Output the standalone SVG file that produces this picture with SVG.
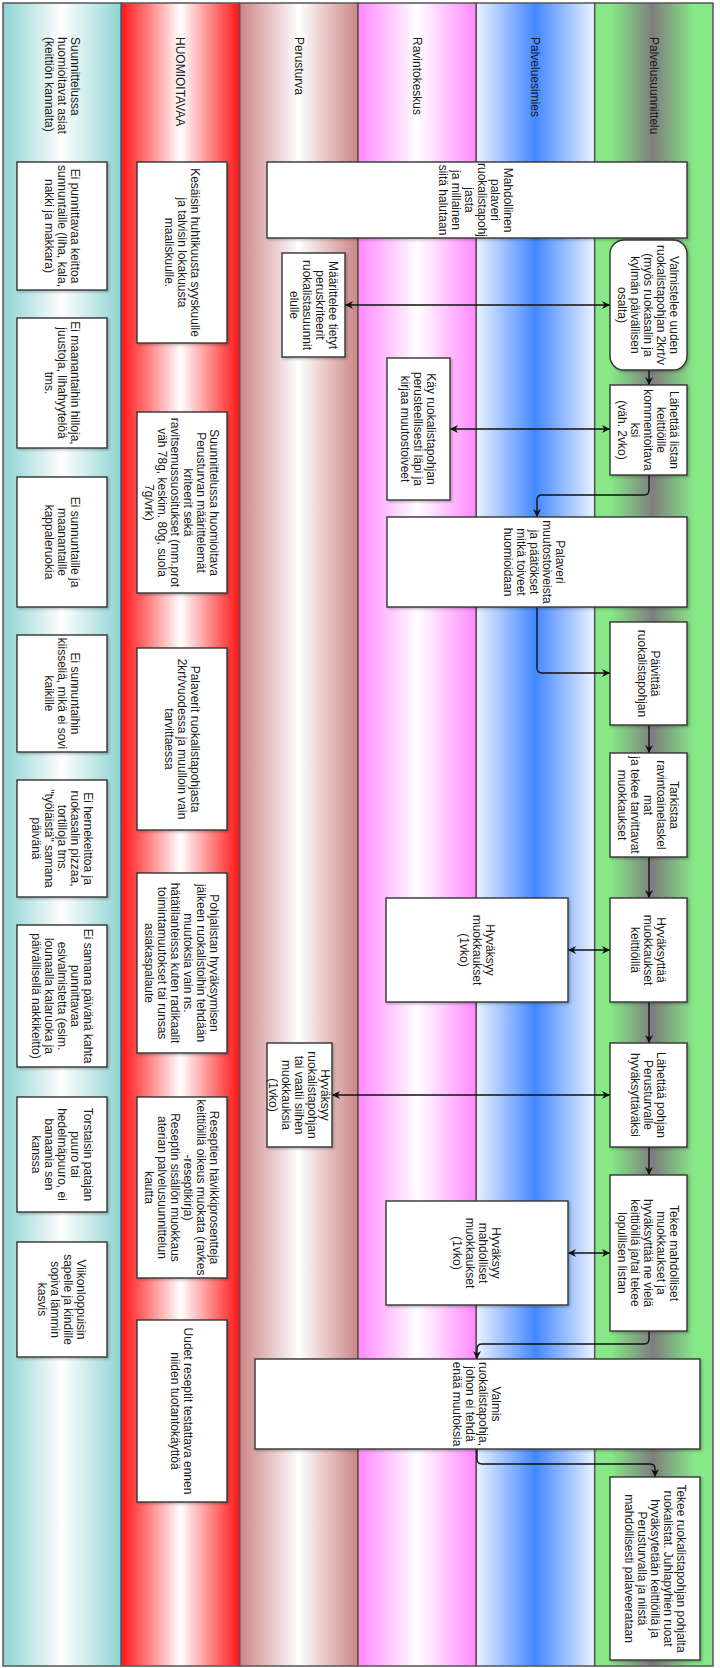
<svg xmlns="http://www.w3.org/2000/svg" width="720" height="1668" viewBox="0 0 720 1668">
<style>
.lane{stroke:#555;stroke-width:1.5}
.box{fill:#fff;stroke:#333;stroke-width:1.4;filter:url(#sh)}
.t{font-family:"Liberation Sans",Arial,sans-serif;font-size:12px;fill:#1a1a1a;text-anchor:middle}
.h{font-family:"Liberation Sans",Arial,sans-serif;font-size:12px;fill:#1a1a1a;text-anchor:start}
.c{fill:none;stroke:#111;stroke-width:1.4}
</style>
<defs>
<filter id="sh" x="-10%" y="-10%" width="130%" height="130%"><feDropShadow dx="1.5" dy="1.5" stdDeviation="1" flood-color="#000" flood-opacity="0.25"/></filter>
<marker id="ae" viewBox="0 0 10 10" refX="10" refY="5" markerWidth="8" markerHeight="8" markerUnits="userSpaceOnUse" orient="auto"><path d="M0,0 L10,5 L0,10 L3,5 z" fill="#111"/></marker>
<marker id="as" viewBox="0 0 10 10" refX="0" refY="5" markerWidth="8" markerHeight="8" markerUnits="userSpaceOnUse" orient="auto"><path d="M10,0 L0,5 L10,10 L7,5 z" fill="#111"/></marker>
<linearGradient id="g1" x1="0" x2="1" y1="0" y2="0"><stop offset="0" stop-color="#8ED3D3"/><stop offset="0.5" stop-color="#fff"/><stop offset="1" stop-color="#8ED3D3"/></linearGradient>
<linearGradient id="g2" x1="0" x2="1" y1="0" y2="0"><stop offset="0" stop-color="#FF1414"/><stop offset="0.5" stop-color="#fff"/><stop offset="1" stop-color="#FF1414"/></linearGradient>
<linearGradient id="g3" x1="0" x2="1" y1="0" y2="0"><stop offset="0" stop-color="#CC8585"/><stop offset="0.5" stop-color="#fff"/><stop offset="1" stop-color="#CC8585"/></linearGradient>
<linearGradient id="g4" x1="0" x2="1" y1="0" y2="0"><stop offset="0" stop-color="#FF88FF"/><stop offset="0.5" stop-color="#fff"/><stop offset="1" stop-color="#FF88FF"/></linearGradient>
<linearGradient id="g5" x1="0" x2="1" y1="0" y2="0"><stop offset="0" stop-color="#EAF2FF"/><stop offset="0.5" stop-color="#4488FF"/><stop offset="1" stop-color="#EAF2FF"/></linearGradient>
<linearGradient id="g6" x1="0" x2="1" y1="0" y2="0"><stop offset="0" stop-color="#86E886"/><stop offset="0.14" stop-color="#86E886"/><stop offset="0.49" stop-color="#7E7E7E"/><stop offset="0.84" stop-color="#86E886"/><stop offset="1" stop-color="#86E886"/></linearGradient>
</defs>

<g id="lanes">
<g id="lane-suunnittelussa"><rect class="lane" x="3" y="3" width="118.3" height="1663" fill="url(#g1)"/>
<text class="h" transform="translate(62,37) rotate(90)"><tspan x="0" y="-8.8">Suunnittelussa</tspan><tspan x="0" y="4.2">huomioitavat asiat</tspan><tspan x="0" y="17.2">(keittiön kannalta)</tspan></text></g>
<g id="lane-huomioitavaa"><rect class="lane" x="121.3" y="3" width="118.4" height="1663" fill="url(#g2)"/>
<text class="h" transform="translate(180.5,37) rotate(90)"><tspan x="0" y="4.2">HUOMIOITAVAA</tspan></text></g>
<g id="lane-perusturva"><rect class="lane" x="239.7" y="3" width="118.3" height="1663" fill="url(#g3)"/>
<text class="h" transform="translate(299,37) rotate(90)"><tspan x="0" y="4.2">Perusturva</tspan></text></g>
<g id="lane-ravintokeskus"><rect class="lane" x="358" y="3" width="118.3" height="1663" fill="url(#g4)"/>
<text class="h" transform="translate(417,37) rotate(90)"><tspan x="0" y="4.2">Ravintokeskus</tspan></text></g>
<g id="lane-palveluesimies"><rect class="lane" x="476.3" y="3" width="118.4" height="1663" fill="url(#g5)"/>
<text class="h" transform="translate(535.5,37) rotate(90)"><tspan x="0" y="4.2">Palveluesimies</tspan></text></g>
<g id="lane-palvelusuunnittelu"><rect class="lane" x="594.7" y="3" width="118.3" height="1663" fill="url(#g6)"/>
<text class="h" transform="translate(654,37) rotate(90)"><tspan x="0" y="4.2">Palvelusuunnittelu</tspan></text></g>
</g>

<g id="connectors">
<line class="c" x1="345" y1="305" x2="610" y2="305" marker-start="url(#as)" marker-end="url(#ae)"/>
<line class="c" x1="450" y1="429" x2="610" y2="429" marker-start="url(#as)" marker-end="url(#ae)"/>
<line class="c" x1="649" y1="370" x2="649" y2="385" marker-end="url(#ae)"/>
<path class="c" d="M649,475 V490 Q649,495 644,495 H542 Q537,495 537,500 V517" marker-end="url(#ae)"/>
<path class="c" d="M537,607 V668 Q537,673 542,673 H610" marker-end="url(#ae)"/>
<line class="c" x1="649" y1="725" x2="649" y2="753" marker-end="url(#ae)"/>
<line class="c" x1="649" y1="857" x2="649" y2="898" marker-end="url(#ae)"/>
<line class="c" x1="568" y1="950" x2="610" y2="950" marker-start="url(#as)" marker-end="url(#ae)"/>
<line class="c" x1="649" y1="1002" x2="649" y2="1043" marker-end="url(#ae)"/>
<line class="c" x1="332" y1="1095" x2="610" y2="1095" marker-start="url(#as)" marker-end="url(#ae)"/>
<line class="c" x1="649" y1="1147" x2="649" y2="1175" marker-end="url(#ae)"/>
<line class="c" x1="568" y1="1253" x2="610" y2="1253" marker-start="url(#as)" marker-end="url(#ae)"/>
<path class="c" d="M649,1331 V1339 Q649,1344 644,1344 H482 Q477,1344 477,1349 V1359" marker-end="url(#ae)"/>
<path class="c" d="M477,1449 V1459 Q477,1464 482,1464 H650 Q655,1464 655,1469 V1477" marker-end="url(#ae)"/>
</g>

<!-- Lane 1 nodes -->
<g id="a1"><rect class="box" x="17" y="162" width="90" height="128"/>
<text class="t" transform="translate(62,226) rotate(90)"><tspan x="0" y="-8.8">Ei punnittavaa keittoa</tspan><tspan x="0" y="4.2">sunnuntaille (liha, kala,</tspan><tspan x="0" y="17.2">nakki ja makkara)</tspan></text></g>
<g id="a2"><rect class="box" x="17" y="318" width="90" height="130"/>
<text class="t" transform="translate(62,383) rotate(90)"><tspan x="0" y="-8.8">Ei maanantaihin hilloja,</tspan><tspan x="0" y="4.2">juustoja, lihahyytelöä</tspan><tspan x="0" y="17.2">tms.</tspan></text></g>
<g id="a3"><rect class="box" x="17" y="477" width="90" height="130"/>
<text class="t" transform="translate(62,542) rotate(90)"><tspan x="0" y="-8.8">Ei sunnuntaille ja</tspan><tspan x="0" y="4.2">maanantaille</tspan><tspan x="0" y="17.2">kappaleruokia</tspan></text></g>
<g id="a4"><rect class="box" x="17" y="635" width="90" height="117"/>
<text class="t" transform="translate(62,693.5) rotate(90)"><tspan x="0" y="-8.8">Ei sunnuntaihin</tspan><tspan x="0" y="4.2">kiisseliä, mikä ei sovi</tspan><tspan x="0" y="17.2">kaikille</tspan></text></g>
<g id="a5"><rect class="box" x="17" y="780" width="90" height="117"/>
<text class="t" transform="translate(62,838.5) rotate(90)"><tspan x="0" y="-21.8">Ei hernekeittoa ja</tspan><tspan x="0" y="-8.8">ruokasalin pizzaa,</tspan><tspan x="0" y="4.2">tortilloja tms.</tspan><tspan x="0" y="17.2">"työläistä" samana</tspan><tspan x="0" y="30.2">päivänä</tspan></text></g>
<g id="a6"><rect class="box" x="17" y="925" width="90" height="142"/>
<text class="t" transform="translate(62,996) rotate(90)"><tspan x="0" y="-21.8">Ei samana päivänä kahta</tspan><tspan x="0" y="-8.8">punnittavaa</tspan><tspan x="0" y="4.2">esivalmistetta (esim.</tspan><tspan x="0" y="17.2">lounaalla kalaruoka ja</tspan><tspan x="0" y="30.2">päivällisellä nakkikeitto)</tspan></text></g>
<g id="a7"><rect class="box" x="17" y="1097" width="90" height="115"/>
<text class="t" transform="translate(62,1154.5) rotate(90)"><tspan x="0" y="-21.8">Torstaisin patajan</tspan><tspan x="0" y="-8.8">puuro tai</tspan><tspan x="0" y="4.2">hedelmäpuuro, ei</tspan><tspan x="0" y="17.2">banaania sen</tspan><tspan x="0" y="30.2">kanssa</tspan></text></g>
<g id="a8"><rect class="box" x="17" y="1242" width="90" height="115"/>
<text class="t" transform="translate(62,1299.5) rotate(90)"><tspan x="0" y="-15.3">Viikonloppuisin</tspan><tspan x="0" y="-2.3">sapelle ja kindille</tspan><tspan x="0" y="10.7">sopiva lämmin</tspan><tspan x="0" y="23.7">kasvis</tspan></text></g>

<!-- Lane 2 nodes -->
<g id="b1"><rect class="box" x="137" y="162" width="90" height="181"/>
<text class="t" transform="translate(182,252.5) rotate(90)"><tspan x="0" y="-8.8">Kesäisin huhtikuusta syyskuulle</tspan><tspan x="0" y="4.2">ja talvisin lokakuusta</tspan><tspan x="0" y="17.2">maaliskuulle.</tspan></text></g>
<g id="b2"><rect class="box" x="137" y="412" width="90" height="181"/>
<text class="t" transform="translate(182,502.5) rotate(90)"><tspan x="0" y="-28.3">Suunnittelussa huomioitava</tspan><tspan x="0" y="-15.3">Perusturvan määrittelemät</tspan><tspan x="0" y="-2.3">kriteerit sekä</tspan><tspan x="0" y="10.7">ravitsemussuositukset (mm.prot</tspan><tspan x="0" y="23.7">väh 78g, keskim. 80g, suola</tspan><tspan x="0" y="36.7">7g/vrk)</tspan></text></g>
<g id="b3"><rect class="box" x="137" y="648" width="90" height="182"/>
<text class="t" transform="translate(182,739) rotate(90)"><tspan x="0" y="-8.8">Palaverit ruokalistapohjasta</tspan><tspan x="0" y="4.2">2krt/vuodessa ja muulloin vain</tspan><tspan x="0" y="17.2">tarvittaessa</tspan></text></g>
<g id="b4"><rect class="box" x="137" y="873" width="90" height="180"/>
<text class="t" transform="translate(182,963) rotate(90)"><tspan x="0" y="-28.3">Pohjalistan hyväksymisen</tspan><tspan x="0" y="-15.3">jälkeen ruokalistoihin tehdään</tspan><tspan x="0" y="-2.3">muutoksia vain ns.</tspan><tspan x="0" y="10.7">hätätilanteissa kuten radikaalit</tspan><tspan x="0" y="23.7">toimintamuutokset tai runsas</tspan><tspan x="0" y="36.7">asiakaspalaute</tspan></text></g>
<g id="b5"><rect class="box" x="137" y="1097" width="90" height="181"/>
<text class="t" transform="translate(182,1187.5) rotate(90)"><tspan x="0" y="-28.3">Reseptien hävikkiprosentteja</tspan><tspan x="0" y="-15.3">keittiöillä oikeus muokata (ravkes</tspan><tspan x="0" y="-2.3">-reseptikirja)</tspan><tspan x="0" y="10.7">Reseptin sisällön muokkaus</tspan><tspan x="0" y="23.7">aterian palvelusuunnittelun</tspan><tspan x="0" y="36.7">kautta</tspan></text></g>
<g id="b6"><rect class="box" x="137" y="1320" width="90" height="182"/>
<text class="t" transform="translate(182,1411) rotate(90)"><tspan x="0" y="-2.3">Uudet reseptit testattava ennen</tspan><tspan x="0" y="10.7">niiden tuotantokäyttöä</tspan></text></g>

<!-- Lane 3 nodes -->
<g id="c1"><rect class="box" x="267" y="162" width="420" height="76"/>
<text class="t" transform="translate(476,200) rotate(90)"><tspan x="0" y="-28.3">Mahdollinen</tspan><tspan x="0" y="-15.3">palaveri</tspan><tspan x="0" y="-2.3">ruokalistapohj</tspan><tspan x="0" y="10.7">jasta</tspan><tspan x="0" y="23.7">ja millainen</tspan><tspan x="0" y="36.7">siitä halutaan</tspan></text></g>
<g id="c2"><rect class="box" x="282" y="253" width="63" height="104"/>
<text class="t" transform="translate(313.5,305) rotate(90)"><tspan x="0" y="-15.3">Määrittelee tietyt</tspan><tspan x="0" y="-2.3">peruskriteerit</tspan><tspan x="0" y="10.7">ruokalistasuunnit</tspan><tspan x="0" y="23.7">elulle</tspan></text></g>
<g id="c3"><rect class="box" x="267" y="1043" width="65" height="104"/>
<text class="t" transform="translate(299.5,1095) rotate(90)"><tspan x="0" y="-21.8">Hyväksyy</tspan><tspan x="0" y="-8.8">ruokalistapohjan</tspan><tspan x="0" y="4.2">tai vaatii siihen</tspan><tspan x="0" y="17.2">muokkauksia</tspan><tspan x="0" y="30.2">(1vko)</tspan></text></g>
<g id="c4"><rect class="box" x="255" y="1359" width="445" height="90"/>
<text class="t" transform="translate(477,1404) rotate(90)"><tspan x="0" y="-15.3">Valmis</tspan><tspan x="0" y="-2.3">ruokalistapohja,</tspan><tspan x="0" y="10.7">johon ei tehdä</tspan><tspan x="0" y="23.7">enää muutoksia</tspan></text></g>

<!-- Lane 4 nodes -->
<g id="d1"><rect class="box" x="387" y="358" width="63" height="142"/>
<text class="t" transform="translate(418.5,429) rotate(90)"><tspan x="0" y="-8.8">Käy ruokalistapohjan</tspan><tspan x="0" y="4.2">perusteellisesti läpi ja</tspan><tspan x="0" y="17.2">kirjaa muutostoiveet</tspan></text></g>
<g id="d2"><rect class="box" x="387" y="517" width="300" height="90"/>
<text class="t" transform="translate(534,562) rotate(90)"><tspan x="0" y="-21.8">Palaveri</tspan><tspan x="0" y="-8.8">muutostoiveista</tspan><tspan x="0" y="4.2">ja päätökset</tspan><tspan x="0" y="17.2">mitkä toiveet</tspan><tspan x="0" y="30.2">huomioidaan</tspan></text></g>
<g id="d3"><rect class="box" x="386" y="898" width="182" height="104"/>
<text class="t" transform="translate(477,950) rotate(90)"><tspan x="0" y="-8.8">Hyväksyy</tspan><tspan x="0" y="4.2">muokkaukset</tspan><tspan x="0" y="17.2">(1vko)</tspan></text></g>
<g id="d4"><rect class="box" x="386" y="1201" width="182" height="104"/>
<text class="t" transform="translate(477,1253) rotate(90)"><tspan x="0" y="-15.3">Hyväksyy</tspan><tspan x="0" y="-2.3">mahdolliset</tspan><tspan x="0" y="10.7">muokkaukset</tspan><tspan x="0" y="23.7">(1vko)</tspan></text></g>

<!-- Lane 6 nodes -->
<g id="e1"><rect class="box" x="610" y="240" width="77" height="130" rx="14" ry="14"/>
<text class="t" transform="translate(648.5,305) rotate(90)"><tspan x="0" y="-21.8">Valmistelee uuden</tspan><tspan x="0" y="-8.8">ruokalistapohjan 2krt/v</tspan><tspan x="0" y="4.2">(myös ruokasalin ja</tspan><tspan x="0" y="17.2">kylmän päivällisen</tspan><tspan x="0" y="30.2">osalta)</tspan></text></g>
<g id="e2"><rect class="box" x="610" y="385" width="77" height="90"/>
<text class="t" transform="translate(648.5,430) rotate(90)"><tspan x="0" y="-21.8">Lähettää listan</tspan><tspan x="0" y="-8.8">keittiöille</tspan><tspan x="0" y="4.2">kommentoitava</tspan><tspan x="0" y="17.2">ksi</tspan><tspan x="0" y="30.2">(väh. 2vko)</tspan></text></g>
<g id="e3"><rect class="box" x="610" y="622" width="77" height="103"/>
<text class="t" transform="translate(648.5,673.5) rotate(90)"><tspan x="0" y="-2.3">Päivittää</tspan><tspan x="0" y="10.7">ruokalistapohjan</tspan></text></g>
<g id="e4"><rect class="box" x="610" y="753" width="77" height="104"/>
<text class="t" transform="translate(648.5,805) rotate(90)"><tspan x="0" y="-21.8">Tarkistaa</tspan><tspan x="0" y="-8.8">ravintoainelaskel</tspan><tspan x="0" y="4.2">mat</tspan><tspan x="0" y="17.2">ja tekee tarvittavat</tspan><tspan x="0" y="30.2">muokkaukset</tspan></text></g>
<g id="e5"><rect class="box" x="610" y="898" width="77" height="104"/>
<text class="t" transform="translate(648.5,950) rotate(90)"><tspan x="0" y="-8.8">Hyväksyttää</tspan><tspan x="0" y="4.2">muokkaukset</tspan><tspan x="0" y="17.2">keittiöillä</tspan></text></g>
<g id="e6"><rect class="box" x="610" y="1043" width="77" height="104"/>
<text class="t" transform="translate(648.5,1095) rotate(90)"><tspan x="0" y="-8.8">Lähettää pohjan</tspan><tspan x="0" y="4.2">Perusturvalle</tspan><tspan x="0" y="17.2">hyväksyttäväksi</tspan></text></g>
<g id="e7"><rect class="box" x="610" y="1175" width="77" height="156"/>
<text class="t" transform="translate(648.5,1253) rotate(90)"><tspan x="0" y="-21.8">Tekee mahdolliset</tspan><tspan x="0" y="-8.8">muokkaukset ja</tspan><tspan x="0" y="4.2">hyväksyttää ne vielä</tspan><tspan x="0" y="17.2">keittiöillä ja/tai tekee</tspan><tspan x="0" y="30.2">lopullisen listan</tspan></text></g>
<g id="e8"><rect class="box" x="610" y="1477" width="90" height="183"/>
<text class="t" transform="translate(655,1568.5) rotate(90)"><tspan x="0" y="-21.8">Tekee ruokalistapohjan pohjalta</tspan><tspan x="0" y="-8.8">ruokalistat. Juhlapyhien ruoat</tspan><tspan x="0" y="4.2">hyväksytetään keittiöillä ja</tspan><tspan x="0" y="17.2">Perusturvalla ja niistä</tspan><tspan x="0" y="30.2">mahdollisesti palaveerataan</tspan></text></g>
</svg>
